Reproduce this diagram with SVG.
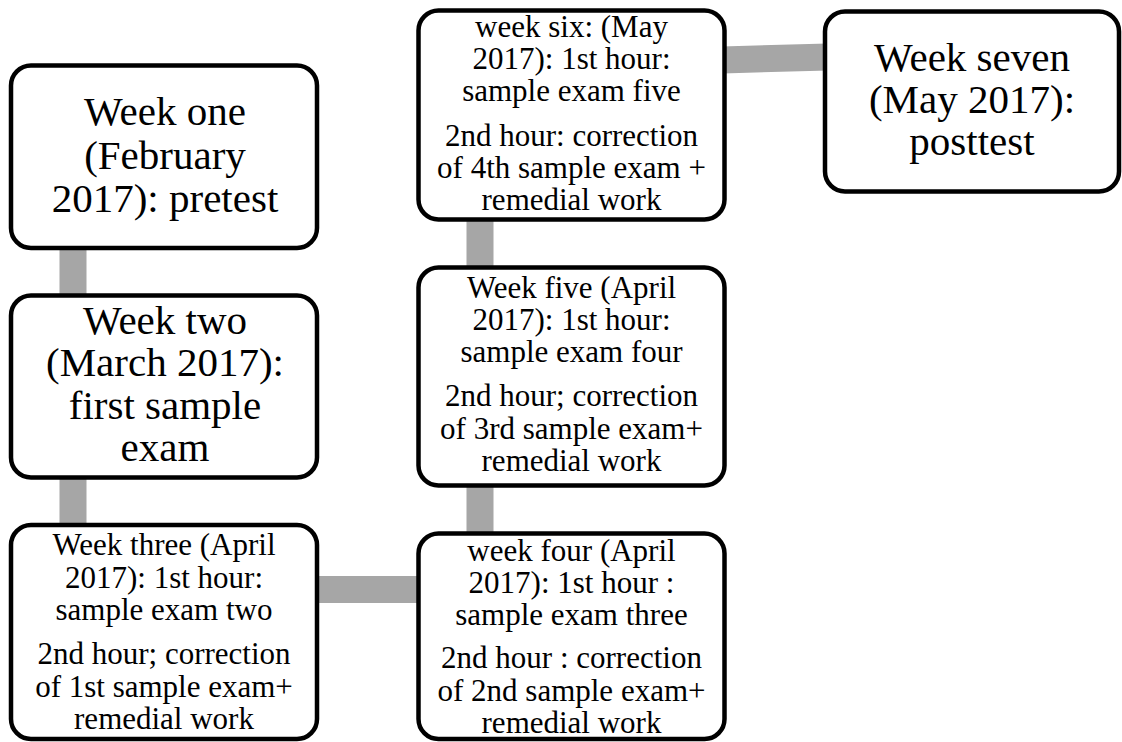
<svg xmlns="http://www.w3.org/2000/svg" width="1122" height="742" viewBox="0 0 1122 742">
<style>
.bg{fill:#ffffff}
.conn{stroke:#a6a6a6;stroke-width:27;fill:none;stroke-linecap:butt}
.box{fill:#ffffff;stroke:#000000;stroke-width:4.5}
.big{font-size:41px;fill:#000000;text-anchor:middle}
.sm{font-size:31px;fill:#000000;text-anchor:middle}
</style>
<rect class="bg" x="0" y="0" width="1122" height="742"/>
<g id="connectors">
<line class="conn" x1="73" y1="246" x2="73" y2="297"/>
<line class="conn" x1="73" y1="476" x2="73" y2="527"/>
<line class="conn" x1="315" y1="589.5" x2="420" y2="589.5"/>
<line class="conn" x1="480" y1="484" x2="480" y2="535"/>
<line class="conn" x1="480" y1="218" x2="480" y2="269"/>
<line class="conn" x1="722" y1="60" x2="828" y2="57"/>
</g>
<g font-family="'Liberation Serif', Tinos, 'Times New Roman', 'DejaVu Serif', serif">
<g id="week1">
<rect class="box" x="11" y="65.5" width="306" height="182.5" rx="20" ry="20"/>
<text class="big" x="165" y="125">Week one</text>
<text class="big" x="165" y="169">(February</text>
<text class="big" x="165" y="212">2017): pretest</text>
</g>
<g id="week2">
<rect class="box" x="11" y="295.5" width="306" height="182" rx="20" ry="20"/>
<text class="big" x="165" y="334">Week two</text>
<text class="big" x="165" y="376">(March 2017):</text>
<text class="big" x="165" y="419">first sample</text>
<text class="big" x="165" y="461">exam</text>
</g>
<g id="week3">
<rect class="box" x="11" y="525" width="306" height="214" rx="20" ry="20"/>
<text class="sm" x="164" y="555">Week three (April</text>
<text class="sm" x="164" y="587.5">2017): 1st hour:</text>
<text class="sm" x="164" y="620">sample exam two</text>
<text class="sm" x="164" y="664">2nd hour; correction</text>
<text class="sm" x="164" y="696.5">of 1st sample exam+</text>
<text class="sm" x="164" y="729">remedial work</text>
</g>
<g id="week4">
<rect class="box" x="418.5" y="533.5" width="306" height="205.5" rx="20" ry="20"/>
<text class="sm" x="571.5" y="561">week four (April</text>
<text class="sm" x="571.5" y="593">2017): 1st hour :</text>
<text class="sm" x="571.5" y="625">sample exam three</text>
<text class="sm" x="571.5" y="668">2nd hour : correction</text>
<text class="sm" x="571.5" y="700.5">of 2nd sample exam+</text>
<text class="sm" x="571.5" y="733">remedial work</text>
</g>
<g id="week5">
<rect class="box" x="418.5" y="267.5" width="306" height="218" rx="20" ry="20"/>
<text class="sm" x="571.5" y="298">Week five (April</text>
<text class="sm" x="571.5" y="330">2017): 1st hour:</text>
<text class="sm" x="571.5" y="362">sample exam four</text>
<text class="sm" x="571.5" y="406">2nd hour; correction</text>
<text class="sm" x="571.5" y="438.5">of 3rd sample exam+</text>
<text class="sm" x="571.5" y="471">remedial work</text>
</g>
<g id="week6">
<rect class="box" x="418.5" y="10.5" width="306" height="209" rx="20" ry="20"/>
<text class="sm" x="571.5" y="37">week six: (May</text>
<text class="sm" x="571.5" y="69">2017): 1st hour:</text>
<text class="sm" x="571.5" y="101">sample exam five</text>
<text class="sm" x="571.5" y="145.5">2nd hour: correction</text>
<text class="sm" x="571.5" y="177.5">of 4th sample exam +</text>
<text class="sm" x="571.5" y="209.5">remedial work</text>
</g>
<g id="week7">
<rect class="box" x="825" y="11.5" width="294" height="180" rx="20" ry="20"/>
<text class="big" x="972" y="71">Week seven</text>
<text class="big" x="972" y="113">(May 2017):</text>
<text class="big" x="972" y="155">posttest</text>
</g>
</g>
</svg>
